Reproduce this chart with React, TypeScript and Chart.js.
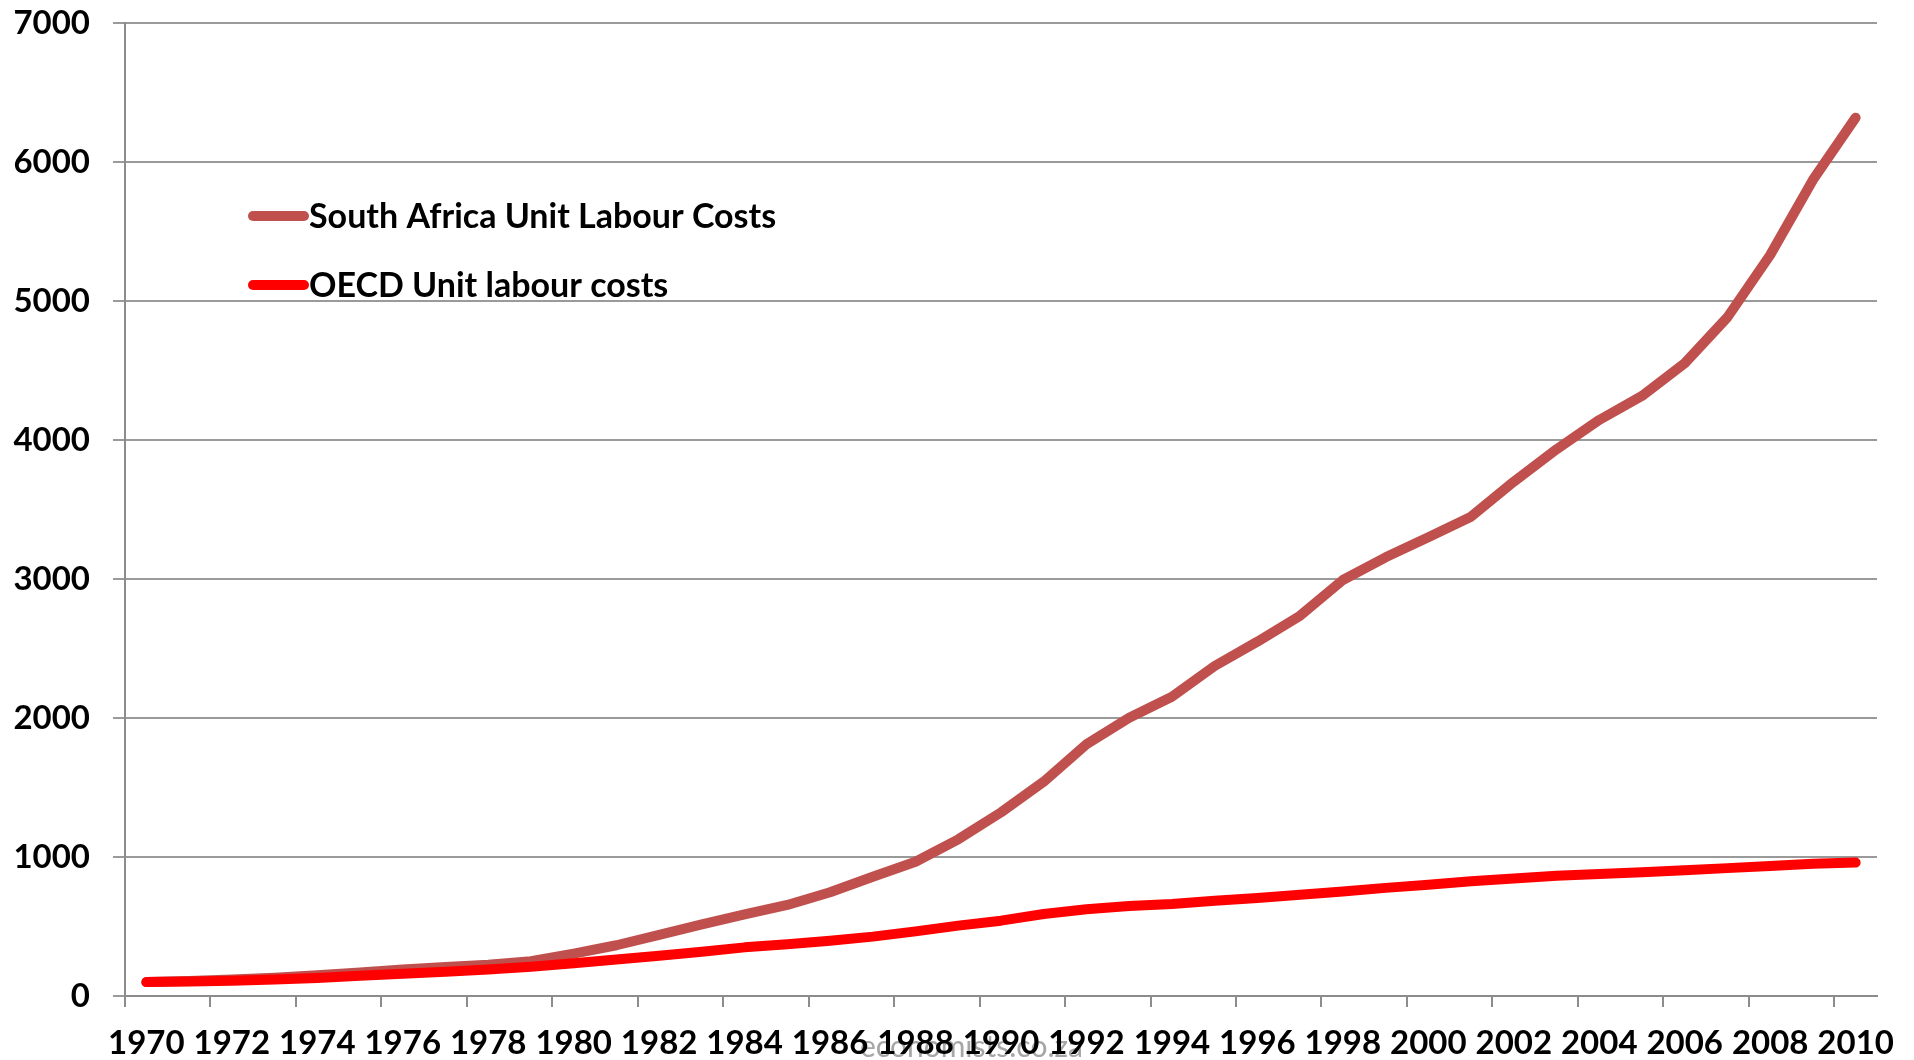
import React, { useEffect, useRef } from 'react';
import { Chart, registerables } from 'chart.js';

Chart.register(...registerables);

const years = [
  '1970', '1971', '1972', '1973', '1974', '1975', '1976', '1977', '1978', '1979',
  '1980', '1981', '1982', '1983', '1984', '1985', '1986', '1987', '1988', '1989',
  '1990', '1991', '1992', '1993', '1994', '1995', '1996', '1997', '1998', '1999',
  '2000', '2001', '2002', '2003', '2004', '2005', '2006', '2007', '2008', '2009',
  '2010',
];

const southAfricaULC = [
  100, 108, 118, 132, 150, 170, 190, 208, 225, 250,
  305, 365, 440, 515, 588, 655, 746, 858, 966, 1127,
  1321, 1542, 1811, 2002, 2153, 2374, 2549, 2736, 2993, 3156,
  3300, 3448, 3700, 3933, 4144, 4317, 4552, 4883, 5331, 5871,
  6319,
];

const oecdULC = [
  100, 104, 110, 118, 130, 145, 160, 175, 190, 210,
  235, 262, 290, 318, 350, 372, 398, 427, 465, 506,
  542, 590, 624, 647, 662, 686, 705, 728, 752, 778,
  800, 825, 845, 865, 878, 890, 905, 920, 935, 952,
  960,
];

const yTicks = [0, 1000, 2000, 3000, 4000, 5000, 6000, 7000];

const seriesNames = ['South Africa Unit Labour Costs', 'OECD Unit labour costs'];
const seriesColors = ['#C0504D', '#FF0000'];
const watermarkText = 'economists.co.za';

const FONT = "Lato, 'Open Sans', sans-serif";
const AXIS_GRAY = '#8c8c8c';

const overlayPlugin = {
  id: 'overlayPlugin',
  beforeDraw(chart: any) {
    const ctx = chart.ctx;
    ctx.save();
    ctx.fillStyle = '#ffffff';
    ctx.fillRect(0, 0, chart.width, chart.height);
    ctx.font = `30px ${FONT}`;
    ctx.fillStyle = '#a6a6a6';
    ctx.textBaseline = 'alphabetic';
    ctx.textAlign = 'left';
    ctx.fillText(watermarkText, 860, 1057);
    ctx.restore();
  },
  afterDatasetsDraw(chart: any) {
    const ctx = chart.ctx;
    const area = chart.chartArea;
    ctx.save();
    const rows = [216, 285];
    seriesNames.forEach((name, i) => {
      const y = rows[i];
      const x0 = area.left + 128;
      ctx.strokeStyle = seriesColors[i];
      ctx.lineWidth = 10;
      ctx.lineCap = 'round';
      ctx.beginPath();
      ctx.moveTo(x0, y);
      ctx.lineTo(x0 + 51, y);
      ctx.stroke();
      ctx.font = `bold 34px ${FONT}`;
      ctx.fillStyle = '#000000';
      ctx.textBaseline = 'middle';
      ctx.textAlign = 'left';
      ctx.fillText(name, area.left + 184, y + 1);
    });
    ctx.restore();
  },
};

export default function App() {
  const canvasRef = useRef<HTMLCanvasElement | null>(null);

  useEffect(() => {
    const canvas = canvasRef.current;
    if (!canvas) return;
    const chart = new Chart(canvas, {
      type: 'line',
      data: {
        labels: years,
        datasets: [
          {
            label: seriesNames[0],
            data: southAfricaULC,
            borderColor: seriesColors[0],
            backgroundColor: seriesColors[0],
            borderWidth: 10,
            borderCapStyle: 'round',
            borderJoinStyle: 'round',
            pointRadius: 0,
            tension: 0,
            fill: false,
            order: 1,
          },
          {
            label: seriesNames[1],
            data: oecdULC,
            borderColor: seriesColors[1],
            backgroundColor: seriesColors[1],
            borderWidth: 10,
            borderCapStyle: 'round',
            borderJoinStyle: 'round',
            pointRadius: 0,
            tension: 0,
            fill: false,
            order: 0,
          },
        ],
      },
      options: {
        responsive: false,
        animation: false,
        layout: { padding: { top: 23, right: 37, left: 0, bottom: 0 } },
        plugins: {
          legend: { display: false },
          tooltip: { enabled: false },
        },
        scales: {
          x: {
            type: 'category',
            offset: true,
            afterFit: (s: any) => {
              s.height = 64;
            },
            border: { display: true, color: AXIS_GRAY, width: 2 },
            grid: {
              offset: true,
              drawOnChartArea: false,
              drawTicks: true,
              tickLength: 11,
              lineWidth: 2,
              color: (c: any) => (c.index % 2 === 0 ? AXIS_GRAY : 'rgba(0,0,0,0)'),
            },
            ticks: {
              autoSkip: false,
              maxRotation: 0,
              minRotation: 0,
              padding: 17,
              color: '#000000',
              font: { family: FONT, size: 33, weight: 'bold' },
              callback: (_v: any, i: number) => (i % 2 === 0 ? years[i] : ''),
            },
          },
          y: {
            min: 0,
            max: 7000,
            afterFit: (s: any) => {
              s.width = 125;
              s.paddingTop = 0;
              s.paddingBottom = 0;
            },
            afterBuildTicks: (s: any) => {
              s.ticks = yTicks.map((v) => ({ value: v }));
            },
            border: { display: true, color: AXIS_GRAY, width: 2 },
            grid: {
              drawOnChartArea: true,
              drawTicks: true,
              tickLength: 12,
              lineWidth: 2,
              color: '#9a9a9a',
            },
            ticks: {
              padding: 23,
              color: '#000000',
              font: { family: FONT, size: 33, weight: 'bold' },
              callback: (v: any) => String(v),
            },
          },
        },
      },
      plugins: [overlayPlugin],
    });
    return () => chart.destroy();
  }, []);

  return (
    <div style={{ position: 'absolute', left: 0, top: 0, width: 1914, height: 1060, background: '#fff' }}>
      <canvas ref={canvasRef} width={1914} height={1060} style={{ display: 'block' }} />
    </div>
  );
}
